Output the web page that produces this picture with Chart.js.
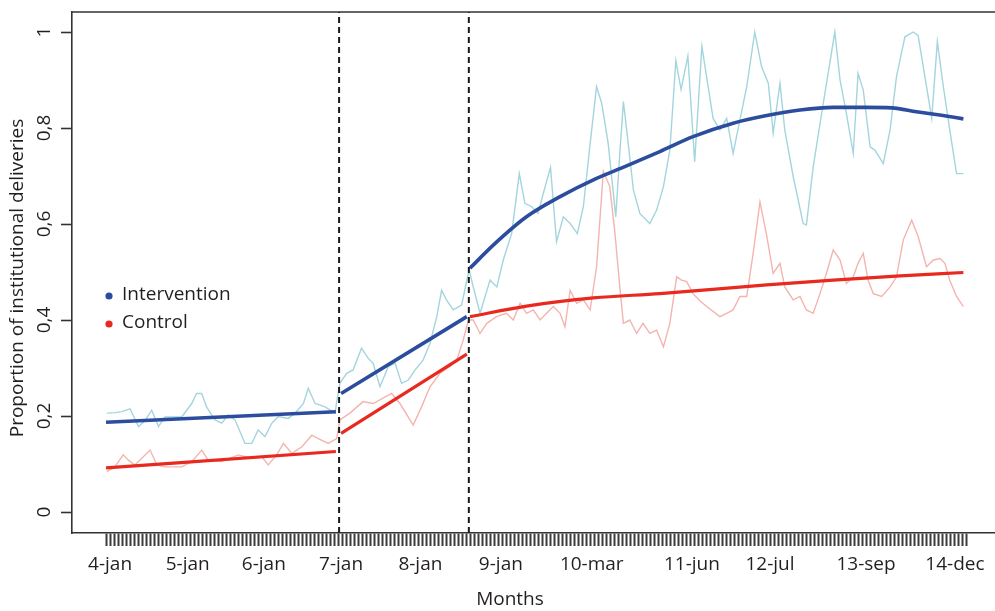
<!DOCTYPE html>
<html>
<head>
<meta charset="utf-8">
<script src="https://cdn.jsdelivr.net/npm/chart.js@4.4.1/dist/chart.umd.min.js"></script>
<style>
html,body{margin:0;padding:0;background:#ffffff;}
#wrap{position:relative;width:995px;height:611px;}
</style>
</head>
<body>
<div id="wrap"><canvas id="c" width="995" height="611"></canvas></div>
<script>
// ---- axis definitions ----
const tickCount = 216;                       // small tick marks along the time axis
const xLabels   = ['4-jan','5-jan','6-jan','7-jan','8-jan','9-jan','10-mar','11-jun','12-jul','13-sep','14-dec'];
const xLabelPos = [1.0, 20.4, 39.4, 58.7, 78.5, 98.6, 121.3, 146.3, 165.8, 189.8, 212.0];
const yTickValues = [0, 0.2, 0.4, 0.6, 0.8, 1];
const yTickLabels = ['0', '0,2', '0,4', '0,6', '0,8', '1'];
const breakPos = [58.2, 90.6];               // intervention phase changes (dashed lines)
const seriesNames = ['Intervention', 'Control'];

// ---- observed proportions (thin lines) ----
const intervRawX = [0.2,2.2,3.9,6.0,8.1,9.7,11.4,13.1,14.7,18.9,21.4,22.6,23.9,25.1,27.2,28.9,30.5,32.2,34.7,36.4,38.0,39.7,41.4,43.0,45.5,47.2,49.3,50.5,52.2,54.7,57.2,57.7,
  58.4,60.1,61.7,63.8,65.5,66.7,68.4,70.5,72.2,73.8,75.5,77.2,79.2,80.9,82.6,83.8,85.0,86.7,88.8,90.1,90.7,91.7,93.4,95.9,97.6,99.2,101.3,103.2,104.6,106.3,
  107.9,109.2,111.0,112.5,114.2,115.9,117.7,119.2,120.9,122.5,123.8,125.4,127.3,128.3,129.2,130.4,131.7,133.3,135.8,137.5,139.2,140.8,142.3,143.6,145.3,147.0,148.8,151.6,153.3,155.0,
  156.6,158.3,160.0,162.0,163.7,165.4,166.6,168.3,169.5,171.6,174.1,174.9,176.6,178.7,182.0,183.3,184.9,186.6,187.8,189.1,190.8,192.0,194.1,195.8,197.4,199.5,201.6,202.8,204.9,206.2,
  207.6,209.1,210.7,212.4,214.1];
const intervRawY = [0.206,0.207,0.209,0.215,0.178,0.19,0.212,0.178,0.198,0.198,0.226,0.247,0.247,0.219,0.192,0.185,0.202,0.192,0.143,0.143,0.171,0.157,0.185,0.199,0.195,0.206,0.226,0.258,0.226,0.219,0.206,0.235,
  0.268,0.289,0.296,0.341,0.32,0.31,0.261,0.303,0.31,0.268,0.275,0.296,0.317,0.351,0.407,0.462,0.442,0.421,0.431,0.483,0.504,0.469,0.414,0.483,0.469,0.525,0.58,0.705,0.643,0.636,
  0.622,0.664,0.718,0.563,0.615,0.601,0.58,0.636,0.768,0.886,0.851,0.768,0.615,0.747,0.855,0.768,0.671,0.622,0.601,0.629,0.678,0.754,0.94,0.88,0.95,0.73,0.97,0.82,0.796,0.82,
  0.747,0.817,0.886,1.0,0.928,0.893,0.789,0.893,0.796,0.699,0.601,0.598,0.719,0.83,1.0,0.9,0.83,0.747,0.914,0.879,0.761,0.754,0.726,0.796,0.907,0.99,1.0,0.993,0.886,0.82,
  0.98,0.886,0.796,0.705,0.705];

const controlRawX = [0.2,2.2,4.3,5.6,7.2,11.0,12.7,14.7,18.9,21.4,23.9,25.5,28.9,33.0,36.4,38.9,40.5,42.6,44.3,46.4,48.9,51.4,53.0,55.5,57.6,
  58.4,60.9,64.2,66.7,71.3,73.4,76.7,78.8,80.9,83.4,85.9,87.6,89.2,90.5,91.7,93.4,95.1,97.5,100.0,101.7,
  103.4,105.0,106.7,108.4,110.0,111.7,113.4,114.6,115.9,117.5,119.2,120.9,122.5,124.2,125.8,127.1,128.3,129.2,130.8,132.5,
  134.1,135.8,137.5,139.2,140.8,142.5,143.7,145.0,146.6,148.3,150.0,153.3,155.0,156.6,158.3,160.0,161.6,163.3,164.9,166.6,
  168.3,169.5,171.6,173.3,174.9,176.6,178.3,179.9,181.6,183.3,184.9,186.6,187.8,189.1,190.3,191.6,193.7,195.8,197.4,199.1,
  201.2,202.8,204.9,206.6,208.3,209.5,210.7,212.4,214.1];
const controlRawY = [0.084,0.094,0.119,0.108,0.098,0.129,0.098,0.094,0.094,0.105,0.129,0.108,0.105,0.119,0.112,0.115,0.098,0.119,0.143,0.122,0.136,0.16,0.153,0.143,0.153,
  0.192,0.206,0.23,0.226,0.247,0.226,0.181,0.219,0.261,0.289,0.303,0.317,0.358,0.40,0.40,0.372,0.393,0.407,0.414,0.40,
  0.435,0.414,0.421,0.40,0.414,0.428,0.414,0.386,0.462,0.435,0.442,0.421,0.511,0.71,0.678,0.58,0.469,0.393,0.40,0.372,
  0.393,0.372,0.379,0.344,0.393,0.49,0.483,0.48,0.455,0.44,0.428,0.407,0.414,0.421,0.449,0.449,0.539,0.646,0.58,0.497,
  0.518,0.469,0.442,0.449,0.421,0.414,0.455,0.497,0.546,0.525,0.476,0.49,0.518,0.539,0.483,0.455,0.449,0.469,0.49,0.567,
  0.608,0.574,0.511,0.525,0.528,0.518,0.483,0.449,0.428];

// ---- fitted (segmented regression) lines ----
const intervFitPreX  = [0, 57.4];       const intervFitPreY  = [0.187, 0.209];
const intervFitMidX  = [58.7, 90.1];    const intervFitMidY  = [0.247, 0.407];
const intervFitPostX = [90.9,96.7,105.0,113.4,121.7,130.0,138.3,146.6,156.6,165.0,173.3,181.6,189.9,196.2,202.4,208.2,214.1];
const intervFitPostY = [0.508,0.556,0.615,0.657,0.692,0.721,0.751,0.782,0.81,0.826,0.8375,0.843,0.843,0.842,0.834,0.827,0.819];
const controlFitPreX  = [0, 57.4];      const controlFitPreY  = [0.092, 0.126];
const controlFitMidX  = [58.7, 90.1];   const controlFitMidY  = [0.164, 0.329];
const controlFitPostX = [90.9,105.0,121.7,138.3,165.0,181.6,198.3,214.1];
const controlFitPostY = [0.407,0.429,0.446,0.455,0.473,0.483,0.492,0.499];

// ---- styling ----
const BLUE = '#2c4d9e', RED = '#e8291f', LIGHTBLUE = '#a3d5de', PINK = '#f4b4ae', INK = '#231f20', AXIS = '#333333';
const X_MIN = -8.5, X_MAX = 222.0, Y_MIN = -0.04375, Y_MAX = 1.0417;
const FONT = "'Open Sans', 'Noto Sans', sans-serif";

const pts = (xs, ys) => xs.map((x, i) => ({x: x, y: ys[i]}));
const fitLine = (xs, ys, color, w) => ({data: pts(xs, ys), borderColor: color, borderWidth: w, pointRadius: 0,
  tension: 0.4, cubicInterpolationMode: 'monotone', fill: false});
const rawLine = (xs, ys, color) => ({data: pts(xs, ys), borderColor: color, borderWidth: 1.4, pointRadius: 0,
  tension: 0, fill: false});
const dashLine = (x) => ({data: [{x: x, y: Y_MIN}, {x: x, y: Y_MAX}], borderColor: '#1a1a1a', borderWidth: 2,
  borderDash: [6, 4], pointRadius: 0, fill: false});

const datasets = [
  dashLine(breakPos[0]), dashLine(breakPos[1]),
  fitLine(intervFitPreX, intervFitPreY, BLUE, 3.6),
  fitLine(intervFitMidX, intervFitMidY, BLUE, 3.6),
  fitLine(intervFitPostX, intervFitPostY, BLUE, 3.6),
  fitLine(controlFitPreX, controlFitPreY, RED, 3.2),
  fitLine(controlFitMidX, controlFitMidY, RED, 3.2),
  fitLine(controlFitPostX, controlFitPostY, RED, 3.2),
  rawLine(intervRawX, intervRawY, LIGHTBLUE),
  rawLine(controlRawX, controlRawY, PINK)
];

const decorPlugin = {
  id: 'decor',
  afterDraw(chart) {
    const ctx = chart.ctx, a = chart.chartArea;
    ctx.save();
    // top frame line
    ctx.strokeStyle = AXIS; ctx.lineWidth = 1.6;
    ctx.beginPath(); ctx.moveTo(a.left, a.top); ctx.lineTo(a.right, a.top); ctx.stroke();
    ctx.fillStyle = INK;
    ctx.font = '19px ' + FONT;
    // axis titles
    ctx.textAlign = 'center'; ctx.textBaseline = 'middle';
    ctx.fillText('Months', 510, 600);
    ctx.save(); ctx.translate(18, 278); ctx.rotate(-Math.PI / 2);
    ctx.fillText('Proportion of institutional deliveries', 0, 0); ctx.restore();
    // legend
    const rows = [[seriesNames[0], BLUE, 295], [seriesNames[1], RED, 323]];
    rows.forEach(r => {
      ctx.fillStyle = r[1]; ctx.beginPath(); ctx.arc(109, r[2] + 1, 3.6, 0, Math.PI * 2); ctx.fill();
      ctx.fillStyle = INK; ctx.textAlign = 'left'; ctx.fillText(r[0], 122, r[2]);
    });
    ctx.restore();
  }
};

Chart.defaults.font.family = FONT;
new Chart(document.getElementById('c'), {
  type: 'line',
  data: {datasets: datasets},
  options: {
    responsive: false, devicePixelRatio: 1, animation: false,
    layout: {padding: {top: 12, right: 0, left: 0, bottom: 0}},
    plugins: {legend: {display: false}, tooltip: {enabled: false}},
    scales: {
      x: {
        type: 'linear', min: X_MIN, max: X_MAX,
        afterBuildTicks(scale) {
          const t = [];
          for (let i = 0; i < tickCount; i++) t.push({value: i});
          xLabelPos.forEach((p, k) => t.push({value: p, lbl: xLabels[k]}));
          scale.ticks = t;
        },
        afterFit(scale) { scale.height = 78; scale.paddingLeft = 0; scale.paddingRight = 0; },
        ticks: {
          autoSkip: false, maxRotation: 0, minRotation: 0, padding: 7,
          color: INK, font: {size: 19, family: FONT},
          callback: (v, i, ticks) => ticks[i].lbl || ''
        },
        grid: {drawOnChartArea: false, drawTicks: true, tickLength: 13, tickWidth: 2,
          tickColor: (c) => (c.tick && c.tick.lbl) ? 'rgba(0,0,0,0)' : '#3c3c3c'},
        border: {display: true, color: AXIS, width: 1.6}
      },
      y: {
        type: 'linear', min: Y_MIN, max: Y_MAX,
        afterBuildTicks(scale) { scale.ticks = yTickValues.map(v => ({value: v})); },
        afterFit(scale) { scale.width = 72; scale.paddingTop = 0; scale.paddingBottom = 0; },
        ticks: {
          minRotation: 90, maxRotation: 90, crossAlign: 'center', padding: 3,
          color: INK, font: {size: 19, family: FONT},
          callback: (v, i) => yTickLabels[i]
        },
        grid: {drawOnChartArea: false, drawTicks: true, tickLength: 11, tickWidth: 1.6, tickColor: AXIS},
        border: {display: true, color: AXIS, width: 1.6}
      }
    }
  },
  plugins: [decorPlugin]
});
</script>
</body>
</html>
